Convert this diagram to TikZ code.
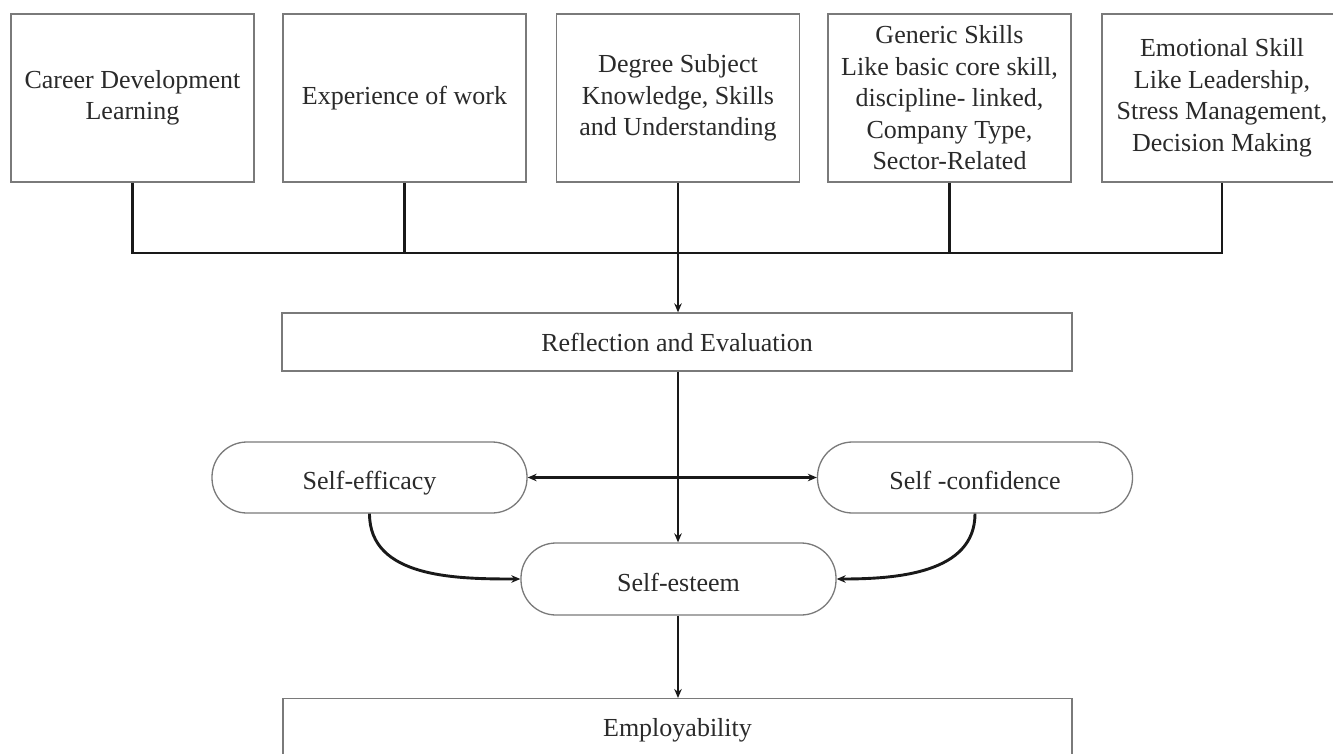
\documentclass[tikz,border=0pt]{standalone}
\usepackage{fontspec}
\setmainfont{Liberation Serif}
\usetikzlibrary{arrows.meta}
\definecolor{boxgray}{HTML}{7A7A7A}
\definecolor{txt}{HTML}{2A2A2A}
\begin{document}
\begin{tikzpicture}[x=1pt,y=-1pt,
  box/.style={draw=boxgray, line width=1.3pt, align=center, text=txt,
    font=\fontsize{26}{31.5}\selectfont, inner sep=0pt},
  topbox/.style={box, minimum width=243pt, minimum height=168pt},
  pill/.style={box, rounded corners=35pt, minimum width=315pt, minimum height=71pt,
    text depth=0pt, text height=24pt},
  conn/.style={line width=2.9pt, draw=black!90},
  tip/.tip={Stealth[length=9pt,width=7.5pt]},
  arr/.style={conn, -tip}]
\useasboundingbox (0,0) rectangle (1333,753);
\clip (0,0) rectangle (1333,753);
\fill[white] (0,0) rectangle (1333,753);

% top boxes
\node[topbox] (b1) at (132.5,98) {Career Development\\Learning};
\node[topbox] (b2) at (404.5,98) {Experience of work};
\node[topbox] (b3) at (678,98) {Degree Subject\\Knowledge,  Skills\\and Understanding};
\node[topbox] (b4) at (949.5,98) {Generic Skills\\Like basic core skill,\\discipline-  linked,\\Company Type,\\Sector-Related};
\node[topbox, minimum width=240pt] (b5) at (1222,98) {Emotional Skill\\Like Leadership,\\Stress Management,\\Decision Making};

% middle
\node[box, minimum width=790pt, minimum height=58pt] (refl) at (677,342) {Reflection and Evaluation};
\node[pill] (se) at (369.5,477.5) {Self-efficacy};
\node[pill] (sc) at (975,477.5) {Self -confidence};
\node[pill, minimum height=72pt] (sest) at (678.5,579) {Self-esteem};
\node[box, minimum width=789pt, minimum height=64pt, anchor=north] (emp) at (677.5,698) {Employability};

% bus
\coordinate (j) at (678,253);
\draw[conn] (b1.south) |- (b5.south |- j) -- (b5.south);
\draw[conn] (b2.south) -- (b2.south |- j);
\draw[conn] (b3.south) -- (j);
\draw[conn] (b4.south) -- (b4.south |- j);

% arrows
\draw[arr] (j) -- (j |- refl.north);
\draw[arr] (j |- refl.south) -- (j |- sest.north);
\draw[conn, tip-tip] (se.east) -- (sc.west);
\draw[arr] (se.south) to[out=-90, in=180] (sest.west);
\draw[arr] (sc.south) to[out=-90, in=0] (sest.east);
\draw[arr] (j |- sest.south) -- (j |- emp.north);
\end{tikzpicture}
\end{document}
